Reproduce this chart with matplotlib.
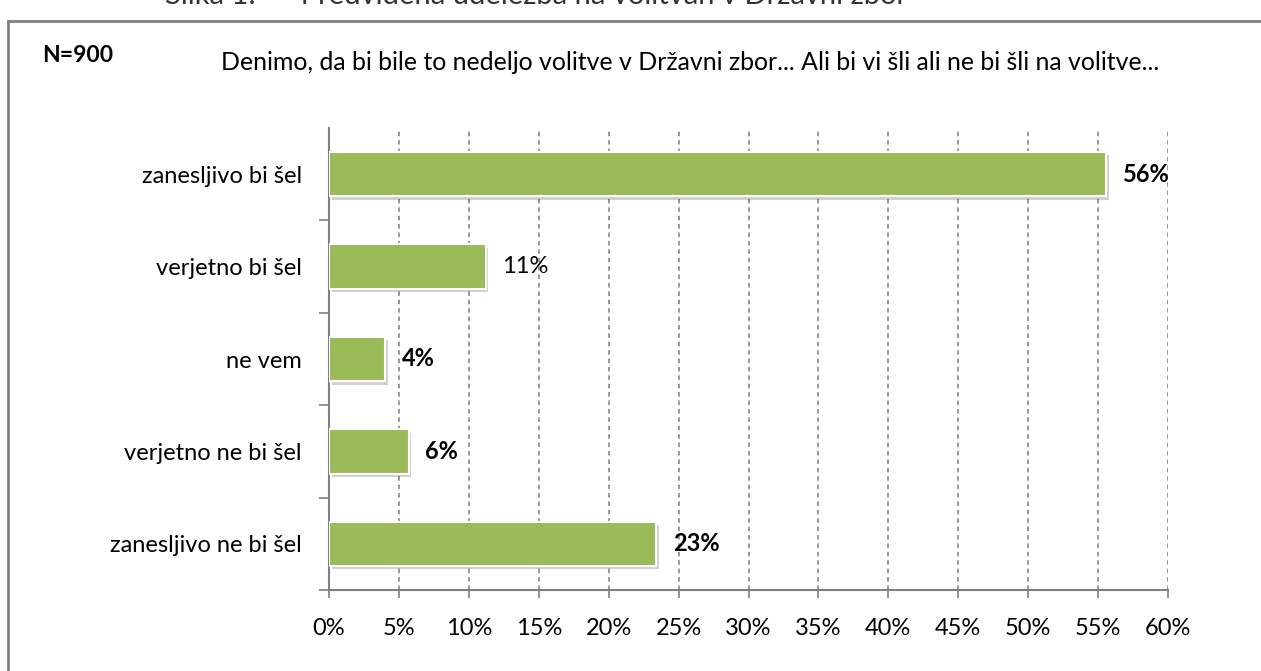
import matplotlib
matplotlib.use("Agg")
import matplotlib.pyplot as plt
import matplotlib.patheffects as pe
from matplotlib.lines import Line2D

categories = ["zanesljivo bi šel", "verjetno bi šel", "ne vem",
              "verjetno ne bi šel", "zanesljivo ne bi šel"]
values = [55.6, 11.2, 4.0, 5.7, 23.4]
value_labels = ["56%", "11%", "4%", "6%", "23%"]
label_bold = [True, False, True, True, True]
xticks = [0, 5, 10, 15, 20, 25, 30, 35, 40, 45, 50, 55, 60]
xtick_labels = [f"{t}%" for t in xticks]
n_text = "N=900"
question = "Denimo, da bi bile to nedeljo volitve v Državni zbor... Ali bi vi šli ali ne bi šli na volitve..."
caption = "Slika 1:      Predvidena udeležba na volitvah v Državni zbor"

FONT = "Lato"
plt.rcParams["font.family"] = [FONT, "DejaVu Sans"]

W, H = 1261, 671
fig = plt.figure(figsize=(W / 100, H / 100), dpi=100)
fig.patch.set_facecolor("white")

ax_left, ax_right, ax_top, ax_bot = 329, 1168, 128, 590
ax = fig.add_axes([ax_left / W, 1 - ax_bot / H, (ax_right - ax_left) / W, (ax_bot - ax_top) / H])

ypos = list(range(len(categories)))
bars = ax.barh(ypos, values, height=0.48, color="#9BBB59", edgecolor="white",
               linewidth=1.5, zorder=3)
for b in bars:
    b.set_path_effects([pe.SimplePatchShadow(offset=(2, -2.5), shadow_rgbFace="#000000", alpha=0.18),
                        pe.Normal()])

for y, v, lab, bold in zip(ypos, values, value_labels, label_bold):
    ax.annotate(lab, xy=(v, y), xytext=(12, 0), textcoords="offset points",
                ha="left", va="center", fontsize=17,
                fontweight="bold" if bold else "normal", color="black", zorder=4)

ax.set_xlim(0, 60)
ax.set_ylim(len(categories) - 0.5, -0.5)
ax.set_xticks(xticks)
ax.set_xticklabels(xtick_labels, fontsize=17)
ax.tick_params(axis="x", direction="out", length=6, width=1.2, color="#808080", pad=14.5)

ax.set_yticks([i + 0.5 for i in ypos])
ax.set_yticklabels([])
ax.tick_params(axis="y", which="major", direction="out", length=7, width=1.2, color="#808080")
ax.set_yticks(ypos, minor=True)
ax.set_yticklabels(categories, minor=True, fontsize=17)
ax.tick_params(axis="y", which="minor", length=0, pad=19.5)

ax.xaxis.grid(True, linestyle=(0, (3, 2.5)), color="#7f7f7f", linewidth=1.1, zorder=0)
ax.set_axisbelow(True)
for s in ["top", "right"]:
    ax.spines[s].set_visible(False)
for s in ["left", "bottom"]:
    ax.spines[s].set_color("#808080")
    ax.spines[s].set_linewidth(1.5)

fig.text(42 / W, 1 - 56 / H, n_text, fontsize=16.5, fontweight="bold", ha="left", va="center")
fig.text(690 / W, 1 - 63 / H, question, fontsize=17.9, ha="center", va="center")
fig.text(536 / W, 1 - 9 / H, caption, fontsize=21, ha="center", va="bottom", color="#333333")

fig.add_artist(Line2D([8 / W, 8 / W], [0, 1 - 21 / H], transform=fig.transFigure,
                      color="#808080", linewidth=2))
fig.add_artist(Line2D([8 / W, 1], [1 - 21 / H, 1 - 21 / H], transform=fig.transFigure,
                      color="#808080", linewidth=2))

fig.savefig("out.png", dpi=100, facecolor="white")
